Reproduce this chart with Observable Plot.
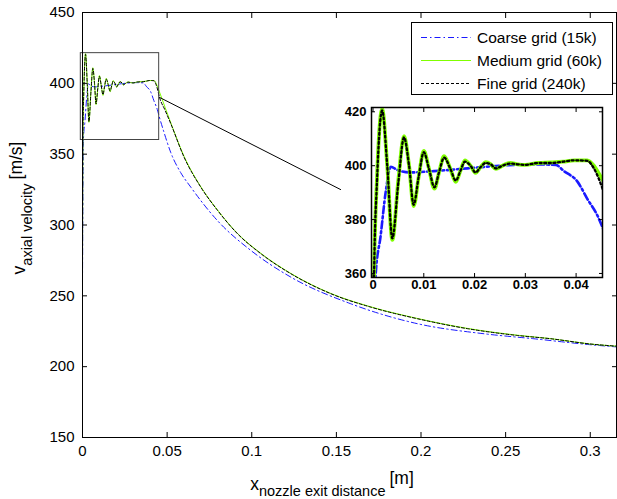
<!DOCTYPE html>
<html><head><meta charset="utf-8">
<script src="https://cdn.jsdelivr.net/npm/d3@7"></script>
<script src="https://cdn.jsdelivr.net/npm/@observablehq/plot@0.6"></script>
<style>
body{margin:0;background:#fff;}
#wrap{position:relative;width:617px;height:499px;overflow:hidden;font-family:"Liberation Sans",Arial,sans-serif;}
#inset{position:absolute;left:330px;top:100px;}
</style></head><body><div id="wrap"><div id="main"></div><div id="inset"></div></div>
<script>
// ---- data ----
const seriesNames = ["Coarse grid (15k)", "Medium grid (60k)", "Fine grid (240k)"];

const coarseX = [0, 0.0005, 0.0015, 0.0025, 0.0035, 0.0048, 0.0074, 0.012, 0.0186, 0.0251, 0.0317, 0.036, 0.0376, 0.0403, 0.0422, 0.0442, 0.0452, 0.048, 0.0522, 0.058, 0.064, 0.0798, 0.0995, 0.1231, 0.1585, 0.198, 0.2374, 0.2667, 0.30, 0.315];
const coarseY = [260, 359, 374, 390.3, 399.6, 398.4, 397.5, 398, 399, 400, 400.5, 400.3, 398, 394, 387.7, 381.5, 377.1, 366, 351, 337, 326.7, 303, 282, 263.2, 244.4, 230.3, 223.2, 219.7, 215.5, 214];

const mediumX = [0, 0.0002, 0.0008, 0.0018, 0.0028, 0.0038, 0.005, 0.0061, 0.0071, 0.008, 0.009, 0.010, 0.011, 0.0121, 0.013, 0.014, 0.0152, 0.0163, 0.0172, 0.0181, 0.0192, 0.0202, 0.0212, 0.0222, 0.0232, 0.0242, 0.0255, 0.027, 0.0285, 0.030, 0.0325, 0.0351, 0.0375, 0.0396, 0.0422, 0.0435, 0.0445, 0.0453, 0.0488, 0.0522, 0.060, 0.0699, 0.0798, 0.0916, 0.1054, 0.1231, 0.1467, 0.1704, 0.198, 0.2275, 0.257, 0.2767, 0.30, 0.315];
const mediumY = [270, 358.5, 396, 421, 400, 372.5, 395, 411, 400, 385, 396, 405.5, 399, 391.5, 397.5, 403.5, 399, 394, 398, 402, 400, 397.3, 399.5, 401.3, 400.5, 398.8, 400, 401, 400.5, 400.3, 401, 401.2, 401.5, 402, 402, 400, 397, 394.5, 383, 372, 348.5, 327, 310.5, 294, 280, 265.8, 251.7, 242.2, 234, 227, 222.2, 219.8, 216, 214.5];

const fineX = [0, 0.0002, 0.0008, 0.0018, 0.0028, 0.0038, 0.005, 0.0061, 0.0071, 0.008, 0.009, 0.010, 0.011, 0.0121, 0.013, 0.014, 0.0152, 0.0163, 0.0172, 0.0181, 0.0192, 0.0202, 0.0212, 0.0222, 0.0232, 0.0242, 0.0255, 0.027, 0.0285, 0.030, 0.0325, 0.0351, 0.0375, 0.0396, 0.0422, 0.0435, 0.0445, 0.0453, 0.0488, 0.0522, 0.060, 0.0699, 0.0798, 0.0916, 0.1054, 0.1231, 0.1467, 0.1704, 0.198, 0.2275, 0.257, 0.2767, 0.30, 0.315];
const fineY = [268, 358.5, 395, 420.5, 400, 373, 394, 410.5, 400, 385.5, 396, 405, 399, 392, 397.5, 403, 399, 394.5, 398, 401.5, 400, 397.5, 399.5, 401, 400.5, 399, 400, 400.8, 400.5, 400.3, 401, 401, 401.5, 402, 401.8, 399, 395, 391, 381, 371.4, 347.9, 326.7, 310.3, 293.8, 279.7, 265.6, 251.5, 242, 233.8, 226.8, 222, 219.7, 216, 214.5];

const xTicks = [0, 0.05, 0.1, 0.15, 0.2, 0.25, 0.3];
const yTicks = [150, 200, 250, 300, 350, 400, 450];
const insetXTicks = [0, 0.01, 0.02, 0.03, 0.04];
const insetYTicks = [360, 380, 400, 420];

// zoom rectangle and leader line (data units)
const zoomX = [-0.001, 0.0453];
const zoomY = [360, 421.3];
const leaderX = [0.0453, 0.1527];
const leaderY = [390.2, 324.9];

// ---- build tables ----
const coarse = coarseX.map((x, i) => ({x, y: coarseY[i]}));
const medium = mediumX.map((x, i) => ({x, y: mediumY[i]}));
const fine = fineX.map((x, i) => ({x, y: fineY[i]}));
const zoomRect = [{x1: zoomX[0], x2: zoomX[1], y1: zoomY[0], y2: zoomY[1]}];
const leader = [{x1: leaderX[0], y1: leaderY[0], x2: leaderX[1], y2: leaderY[1]}];

const FONT = '"Liberation Sans", Arial, Helvetica, sans-serif';
const BLUE = "#1a1aff", GREEN = "#80ff00";
const fmt = d => String(d);
const CURVE = "monotone-x";

const main = Plot.plot({
  width: 617, height: 499,
  marginLeft: 82, marginRight: 1, marginTop: 12, marginBottom: 62,
  x: {domain: [0, 0.3155]},
  y: {domain: [150, 450]},
  style: {fontFamily: FONT, fontSize: "15px", background: "white", color: "black"},
  marks: [
    Plot.line(coarse, {x: "x", y: "y", curve: CURVE, stroke: BLUE, strokeWidth: 1, strokeDasharray: "6,3,1.5,3"}),
    Plot.line(medium, {x: "x", y: "y", curve: CURVE, stroke: GREEN, strokeWidth: 1}),
    Plot.line(fine, {x: "x", y: "y", curve: CURVE, stroke: "black", strokeWidth: 1, strokeDasharray: "3,2"}),
    Plot.rect(zoomRect, {x1: "x1", x2: "x2", y1: "y1", y2: "y2", stroke: "#444", strokeWidth: 1, fill: "none"}),
    Plot.link(leader, {x1: "x1", y1: "y1", x2: "x2", y2: "y2", stroke: "black", strokeWidth: 1}),
    Plot.frame({stroke: "black", strokeWidth: 1}),
    Plot.axisX(xTicks, {anchor: "bottom", tickSize: -5, tickPadding: 13, tickFormat: fmt, label: null}),
    Plot.axisX(xTicks, {anchor: "top", tickSize: -5, tickFormat: () => "", label: null}),
    Plot.axisY(yTicks, {anchor: "left", tickSize: -5, tickPadding: 13, tickFormat: fmt, label: null}),
    Plot.axisY(yTicks, {anchor: "right", tickSize: -5, tickFormat: () => "", label: null})
  ]
});
document.getElementById("main").appendChild(main);

// axis titles and legend (drawn in the main SVG)
const svg = d3.select(main);
const xl = svg.append("text").attr("x", 332).attr("y", 490).attr("text-anchor", "middle")
  .attr("font-family", FONT).attr("font-size", 17.5).attr("fill", "black");
xl.append("tspan").text("x");
xl.append("tspan").attr("font-size", 14.5).attr("dy", 6).text("nozzle exit distance");
xl.append("tspan").attr("dy", -12).attr("dx", 4).text("[m]");

const yl = svg.append("text").attr("transform", "translate(25,208) rotate(-90)").attr("text-anchor", "middle")
  .attr("font-family", FONT).attr("font-size", 17.5).attr("fill", "black");
yl.append("tspan").text("v");
yl.append("tspan").attr("font-size", 14.5).attr("dy", 7).text("axial velocity");
yl.append("tspan").attr("dy", -10).attr("dx", 4).text("[m/s]");

const lg = svg.append("g").attr("font-family", FONT).attr("font-size", 15.5).attr("text-anchor", "start");
lg.append("rect").attr("x", 411.5).attr("y", 22.5).attr("width", 201).attr("height", 72)
  .attr("fill", "white").attr("stroke", "black").attr("stroke-width", 1);
const legendStyles = [
  {stroke: BLUE, dash: "6,3,1.5,3"},
  {stroke: GREEN, dash: null},
  {stroke: "black", dash: "3,2"}
];
seriesNames.forEach((name, i) => {
  const yy = 37.5 + i * 23;
  lg.append("line").attr("x1", 421).attr("x2", 471).attr("y1", yy).attr("y2", yy)
    .attr("stroke", legendStyles[i].stroke).attr("stroke-width", 1)
    .attr("stroke-dasharray", legendStyles[i].dash);
  lg.append("text").attr("x", 477).attr("y", yy).attr("dy", "0.36em")
    .attr("text-anchor", "start").attr("fill", "black").text(name);
});

// ---- inset ----
const inset = Plot.plot({
  width: 280, height: 200,
  marginLeft: 41, marginRight: 8, marginTop: 7, marginBottom: 23,
  x: {domain: [-0.0003, 0.0452]},
  y: {domain: [358.5, 421.6]},
  style: {fontFamily: FONT, fontSize: "13px", fontWeight: "bold", background: "transparent", color: "black", overflow: "visible"},
  marks: [
    Plot.frame({fill: "white", stroke: null}),
    Plot.line(coarse, {x: "x", y: "y", curve: CURVE, stroke: BLUE, strokeWidth: 2.6, strokeDasharray: "7,3,2,3", clip: true}),
    Plot.line(medium, {x: "x", y: "y", curve: CURVE, stroke: GREEN, strokeWidth: 3.8, clip: true}),
    Plot.line(fine, {x: "x", y: "y", curve: CURVE, stroke: "black", strokeWidth: 2.3, strokeDasharray: "2,2.6", clip: true}),
    Plot.frame({stroke: "black", strokeWidth: 1.5}),
    Plot.axisX(insetXTicks, {anchor: "bottom", tickSize: -4, tickPadding: 6, tickFormat: fmt, label: null}),
    Plot.axisX(insetXTicks, {anchor: "top", tickSize: -4, tickFormat: () => "", label: null}),
    Plot.axisY(insetYTicks, {anchor: "left", tickSize: -4, tickPadding: 9, tickFormat: fmt, label: null}),
    Plot.axisY(insetYTicks, {anchor: "right", tickSize: -4, tickFormat: () => "", label: null})
  ]
});
document.getElementById("inset").appendChild(inset);
</script>
</body></html>
